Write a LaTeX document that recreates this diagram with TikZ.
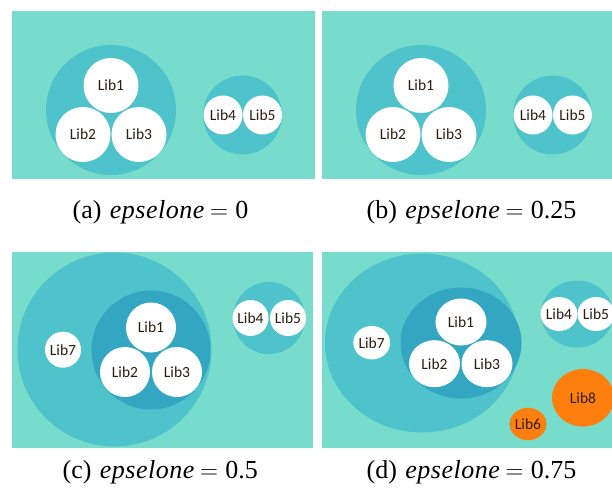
\documentclass[tikz,border=0pt]{standalone}
\usepackage{fontspec}
\setmainfont{Liberation Serif}
\newfontfamily\libfont{Carlito}
\usetikzlibrary{shapes.geometric}

\definecolor{bgteal}{HTML}{77DCCB}
\definecolor{midteal}{HTML}{4EC3CB}
\definecolor{deepteal}{HTML}{33A7C1}
\definecolor{liborange}{HTML}{FF7F0E}
\definecolor{libtext}{HTML}{2B1D10}

\newcommand{\epsv}[2]{(#1)\hspace{0.32em}{\itshape\addfontfeature{LetterSpace=2}epselone}\hspace{0.22em}$=$\hspace{0.28em}#2}

\tikzset{
  panel/.style={fill=bgteal, draw=none},
  group/.style={circle, fill=midteal, inner sep=0pt, minimum size=#1},
  core/.style={circle, fill=deepteal, inner sep=0pt, minimum size=#1},
  lib/.style={circle, fill=white, inner sep=0pt, minimum size=#1, text=libtext,
    font=\libfont\fontsize{15.5}{15.5}\selectfont},
  egroup/.style 2 args={ellipse, fill=midteal, inner sep=0pt, minimum width=#1, minimum height=#2},
  ecore/.style 2 args={ellipse, fill=deepteal, inner sep=0pt, minimum width=#1, minimum height=#2},
  elib/.style 2 args={ellipse, fill=white, inner sep=0pt, minimum width=#1, minimum height=#2,
    text=libtext, font=\libfont\fontsize{15.5}{15.5}\selectfont},
  ehot/.style 2 args={elib={#1}{#2}, fill=liborange},
  subcap/.style={font=\fontsize{26}{26}\selectfont, anchor=base west, inner sep=0pt}
}

\begin{document}
\begin{tikzpicture}[x=1pt, y=-1pt]
\useasboundingbox (0,0) rectangle (612,494);

% (a) and (b): two separate clusters
\foreach \dx/\tag/\w in {0/a/303, 310/b/290} {
  \begin{scope}[xshift=\dx pt]
    \clip (12,11) rectangle ++(\w,168);
    \fill[panel] (12,11) rectangle ++(\w,168);
    \node[group=130pt] (big\tag) at (111,110) {};
    \node[lib=55pt] (one\tag) at (111,85.5) {Lib1};
    \node[lib=55pt] (two\tag) at (83,134.5) {Lib2};
    \node[lib=55pt] (three\tag) at (139,134.5) {Lib3};
    \node[group=79pt] (small\tag) at (242.5,115) {};
    \node[lib=39pt] (four\tag) at (223,115) {Lib4};
    \node[lib=39pt] (five\tag) at (262.5,115) {Lib5};
  \end{scope}
}

% (c): Lib7 joins the large cluster
\begin{scope}
  \clip (12,252) rectangle (313,448);
  \fill[panel] (12,252) rectangle (313,448);
  \node[group=194pt] (outerc) at (114.5,349.5) {};
  \node[core=119pt] (corec) at (151,350) {};
  \node[lib=50pt] (onec) at (151,327.5) {Lib1};
  \node[lib=50pt] (twoc) at (125,372) {Lib2};
  \node[lib=50pt] (threec) at (177,372) {Lib3};
  \node[lib=36pt] (sevenc) at (63,349.7) {Lib7};
  \node[group=72pt] (smallc) at (269,318) {};
  \node[lib=36pt] (fourc) at (250.5,318) {Lib4};
  \node[lib=36pt] (fivec) at (288,318) {Lib5};
\end{scope}

% (d): Lib6 and Lib8 appear outside the clusters
\begin{scope}
  \clip (322,252) rectangle (612,448);
  \fill[panel] (322,252) rectangle (612,448);
  \node[egroup={194pt}{179pt}] (outerd) at (422,343) {};
  \node[ecore={121pt}{111pt}] (cored) at (461,343) {};
  \node[elib={51pt}{47pt}] (oned) at (461,322) {Lib1};
  \node[elib={51pt}{47pt}] (twod) at (434.5,363.7) {Lib2};
  \node[elib={51pt}{47pt}] (threed) at (487,363.7) {Lib3};
  \node[elib={36.5pt}{33.5pt}] (sevend) at (371.7,342.7) {Lib7};
  \node[egroup={72pt}{67pt}] (smalld) at (577,314) {};
  \node[elib={35.5pt}{34pt}] (fourd) at (559,314) {Lib4};
  \node[elib={35.5pt}{34pt}] (fived) at (596,314) {Lib5};
  \node[ehot={62pt}{57.5pt}] (eightd) at (583,397.8) {Lib8};
  \node[ehot={36pt}{32.5pt}] (sixd) at (528,424) {Lib6};
\end{scope}

% captions
\node[subcap] (capa) at (72.5,218.5) {\epsv{a}{0}};
\node[subcap] (capb) at (366.5,218.5) {\epsv{b}{0.25}};
\node[subcap] (capc) at (62.5,478.5) {\epsv{c}{0.5}};
\node[subcap] (capd) at (366.5,478.5) {\epsv{d}{0.75}};
\end{tikzpicture}
\end{document}
